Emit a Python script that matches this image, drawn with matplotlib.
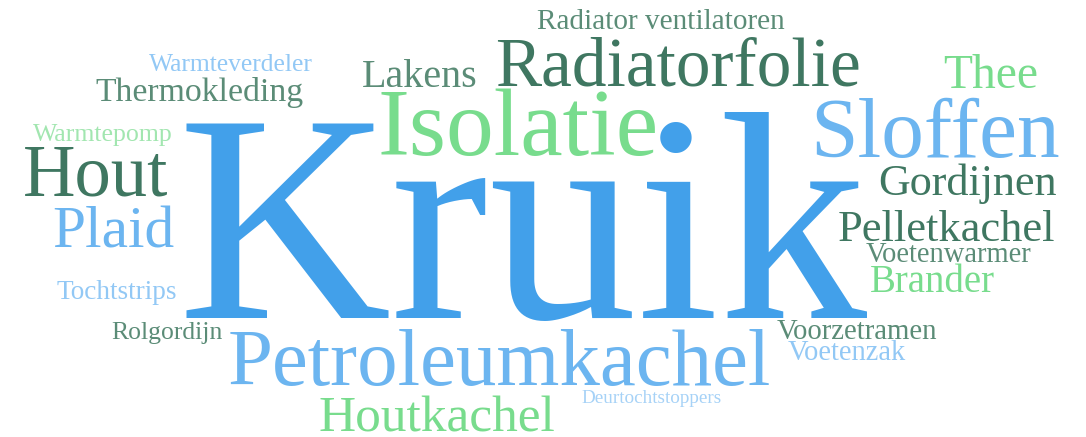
import matplotlib
matplotlib.use('Agg')
import matplotlib.pyplot as plt

# word cloud data: words and their relative size (font size in pt)
words = ['Kruik', 'Radiatorfolie', 'Isolatie', 'Sloffen', 'Petroleumkachel', 'Hout',
         'Plaid', 'Houtkachel', 'Thee', 'Gordijnen', 'Pelletkachel', 'Lakens',
         'Thermokleding', 'Brander', 'Radiator ventilatoren', 'Voetenwarmer',
         'Voorzetramen', 'Rolgordijn', 'Tochtstrips', 'Warmteverdeler', 'Warmtepomp',
         'Voetenzak', 'Deurtochtstoppers']
sizes = [220, 48, 58, 52, 48, 40, 36, 34, 30, 26, 28, 24, 22, 22, 18, 16, 16, 15, 15, 15,
         14, 15, 12]

# layout: left x, right x, baseline y (pixels)
boxes = [(178, 868, 318), (495, 860, 85), (378, 659, 155), (810, 1060, 157),
         (228, 771, 385), (23, 168, 196), (52, 174, 248), (318, 555, 432),
         (943, 1038, 88), (878, 1057, 195), (838, 1055, 241), (362, 478, 87),
         (95, 303, 101), (870, 995, 292), (537, 785, 29), (866, 1032, 262),
         (776, 937, 339), (111, 222, 339), (56, 177, 299), (148, 313, 71),
         (32, 173, 141), (787, 906, 360), (582, 722, 403)]

blue = '#42a0ea'
lblue = '#6cb5f0'
pblue = '#92c8f5'
green = '#78dc8d'
pgreen = '#a2e6b0'
dgreen = '#3f7761'
mgreen = '#5b8c77'
colors = [blue, dgreen, green, lblue, lblue, dgreen, lblue, green, green, dgreen, dgreen,
          mgreen, mgreen, green, mgreen, mgreen, mgreen, mgreen, pblue, pblue, pgreen,
          pblue, '#a6d2f7']

fig = plt.figure(figsize=(10.86, 4.37), dpi=100)
ax = fig.add_axes([0, 0, 1, 1])
ax.set_xlim(0, 1086)
ax.set_ylim(437, 0)
ax.axis('off')
renderer = fig.canvas.get_renderer()

for word, size, (x0, x1, yb), col in zip(words, sizes, boxes, colors):
    t = ax.text((x0 + x1) / 2, yb, word, fontsize=size, ha='center', va='baseline',
                color=col, family='Liberation Serif')
    # fit the word into its slot width
    w = t.get_window_extent(renderer).width
    t.set_fontsize(size * (x1 - x0) / w)

fig.savefig('out.png', dpi=100, facecolor='white')
